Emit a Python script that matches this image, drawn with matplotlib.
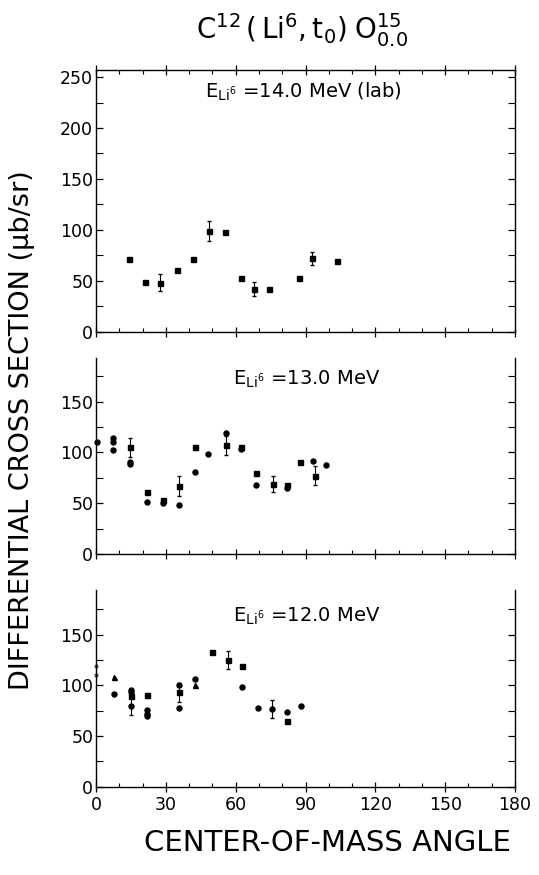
import numpy as np
import matplotlib
matplotlib.use("Agg")
import matplotlib.pyplot as plt
from matplotlib.ticker import MultipleLocator

plt.rcParams['font.family'] = ['DejaVu Sans']
plt.rcParams['mathtext.fontset'] = 'dejavusans'

# ---- data (deg, ub/sr) ----
# 14.0 MeV
a14_x = [14.3, 21.1, 27.4, 35.0, 41.6, 48.4, 55.3, 62.1, 67.7, 74.3, 87.1, 92.7, 103.4]
a14_y = [71, 49, 48, 61, 71, 99, 98, 53, 42, 42, 53, 72, 69]
a14_err = [0, 0, 8.5, 0, 0, 10, 0, 0, 7, 0, 0, 6.5, 0]

# 13.0 MeV - squares
s13_x = [14.6, 21.9, 28.6, 35.6, 42.7, 56.0, 62.4, 68.6, 75.9, 81.9, 87.6, 93.9]
s13_y = [105, 61, 53, 67, 105, 107, 105, 80, 69, 68, 91, 77]
s13_err = [9, 0, 0, 9.5, 0, 9.5, 0, 0, 7.5, 0, 0, 9.5]
# 13.0 MeV - circles
c13_x = [0.3, 7.1, 7.1, 7.1, 14.6, 14.6, 21.9, 28.6, 35.6, 42.7, 48.1, 56.0, 62.4, 68.6, 81.9, 93.3, 99.0]
c13_y = [110, 114, 110, 102, 91, 89, 51, 50, 48, 81, 98, 119, 103, 68, 65, 92, 88]

# 12.0 MeV - squares
s12_x = [14.9, 22.1, 35.6, 50.0, 56.6, 62.9, 82.1]
s12_y = [89, 90, 93, 133, 125, 119, 65]
s12_err = [0, 0, 9.7, 0, 9, 0, 0]
# 12.0 MeV - circles
c12_x = [7.9, 14.9, 14.9, 14.9, 22.1, 22.1, 22.1, 35.6, 35.6, 42.7, 62.9, 69.6, 75.7, 82.1, 88.1]
c12_y = [91, 95, 93, 80, 76, 72, 70, 100, 78, 106, 98, 78, 77, 74, 80]
c12_err = [0, 0, 0, 9.5, 0, 0, 0, 0, 0, 0, 0, 0, 9, 0, 0]
# 12.0 MeV - triangles
t12_x = [7.9, 42.7]
t12_y = [108, 100]
# 12.0 MeV - small open points at 0 deg
o12_x = [0.0, 0.0]
o12_y = [119, 110]

W, H = 539, 875
fig = plt.figure(figsize=(W / 100, H / 100), dpi=100)

left = 96 / W
width = (515 - 96) / W
ax1 = fig.add_axes([left, 1 - 331.7 / H, width, (331.7 - 70) / H])
ax2 = fig.add_axes([left, 1 - 554 / H, width, (554 - 358) / H])
ax3 = fig.add_axes([left, 1 - 786.7 / H, width, (786.7 - 590) / H])

tick_fs = 12.5
for ax in (ax1, ax2, ax3):
    ax.set_xlim(0, 180)
    ax.xaxis.set_major_locator(MultipleLocator(30))
    ax.xaxis.set_minor_locator(MultipleLocator(10))
    ax.yaxis.set_major_locator(MultipleLocator(50))
    ax.yaxis.set_minor_locator(MultipleLocator(25))
    ax.tick_params(axis='x', which='major', direction='inout', length=7, width=0.9)
    ax.tick_params(axis='x', which='minor', direction='in', length=3, width=0.8)
    ax.tick_params(axis='y', which='major', direction='in', length=5, width=0.9,
                   right=True, labelsize=tick_fs, pad=2)
    ax.tick_params(axis='y', which='minor', direction='in', length=5, width=0.8, right=True)
    for s in ax.spines.values():
        s.set_linewidth(1.0)

ax1.set_ylim(0, 257)
ax2.set_ylim(0, 193)
ax3.set_ylim(0, 194)
ax1.tick_params(axis='x', which='both', top=True, labelbottom=False)
ax2.tick_params(axis='x', which='both', labelbottom=False)
ax2.spines['top'].set_visible(False)
ax3.spines['top'].set_visible(False)
ax3.tick_params(axis='x', which='major', labelsize=tick_fs, pad=3)

ms = 3.6
kw = dict(color='black', ecolor='black', elinewidth=0.8, capsize=1.5, linestyle='none')

ax1.errorbar(a14_x, a14_y, yerr=a14_err, fmt='s', ms=ms, **kw)

ax2.errorbar(s13_x, s13_y, yerr=s13_err, fmt='s', ms=ms, **kw)
ax2.plot(c13_x, c13_y, 'o', ms=ms, color='black', clip_on=False)

ax3.errorbar(s12_x, s12_y, yerr=s12_err, fmt='s', ms=ms, **kw)
ax3.errorbar(c12_x, c12_y, yerr=c12_err, fmt='o', ms=ms, **kw)
ax3.plot(t12_x, t12_y, '^', ms=ms, color='black')
ax3.plot(o12_x, o12_y, 'o', ms=2.2, mfc='white', mec='black', mew=0.6, clip_on=False)

txt_fs = 14
ax1.text(47, 236, r'$\mathrm{E}_{\mathrm{Li}^6}$ =14.0 MeV (lab)', fontsize=txt_fs, va='center', ha='left')
ax2.text(59, 172, r'$\mathrm{E}_{\mathrm{Li}^6}$ =13.0 MeV', fontsize=txt_fs, va='center', ha='left')
ax3.text(59, 168, r'$\mathrm{E}_{\mathrm{Li}^6}$ =12.0 MeV', fontsize=txt_fs, va='center', ha='left')

fig.text(302 / W, 1 - 30 / H, r'$\mathrm{C}^{12}\,(\,\mathrm{Li}^6,\mathrm{t}_0)\;\mathrm{O}^{15}_{0.0}$',
         fontsize=20, ha='center', va='center')
fig.text(22 / W, 1 - 430 / H, 'DIFFERENTIAL CROSS SECTION (\u03bcb/sr)', rotation=90,
         fontsize=19.5, ha='center', va='center')
fig.text(327 / W, 1 - 843 / H, 'CENTER-OF-MASS ANGLE', fontsize=21, ha='center', va='center')

fig.savefig('out.png', dpi=100)
